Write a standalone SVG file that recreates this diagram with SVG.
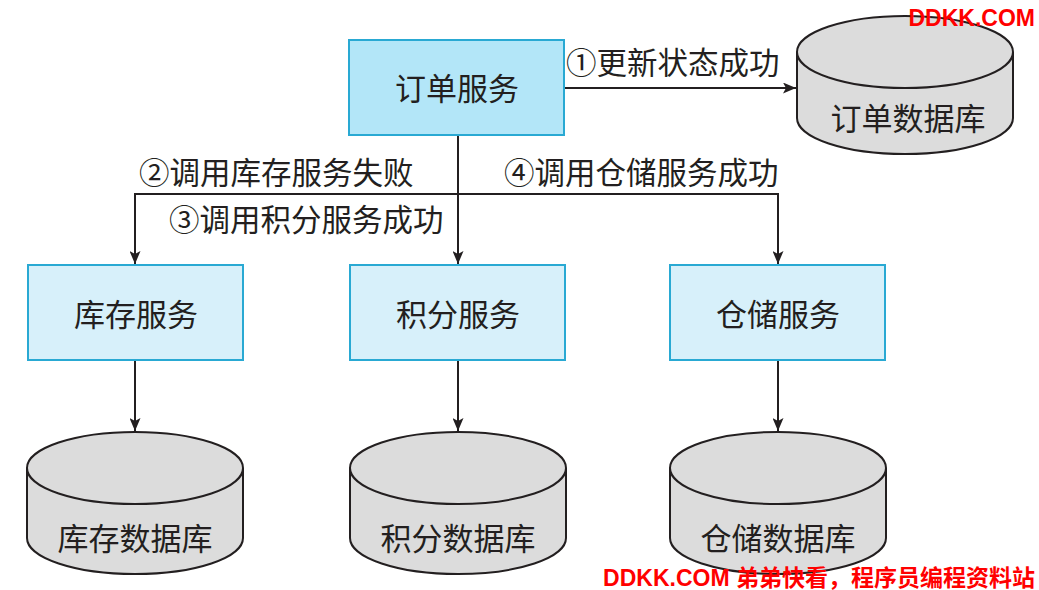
<svg xmlns="http://www.w3.org/2000/svg" width="1039" height="590" viewBox="0 0 1039 590">
<defs>
<style>
.t{font-family:"Noto Sans CJK SC","Noto Sans",sans-serif;font-size:31px;fill:#231f20;text-anchor:middle}
.lb{font-family:"Noto Sans CJK SC","Noto Sans",sans-serif;font-size:30.5px;fill:#231f20}
.main{fill:#b3e6f8;stroke:#29a9d3;stroke-width:2}
.svc{fill:#d7f0fa;stroke:#29a9d3;stroke-width:2}
.db{fill:#dcdcdc;stroke:#231f20;stroke-width:2}
.ln{fill:none;stroke:#231f20;stroke-width:2}
.wm{font-family:"Liberation Sans","Noto Sans CJK SC",sans-serif;font-weight:bold;font-size:23px;fill:#ff0000}
</style>
<marker id="ah" markerWidth="13" markerHeight="11" refX="13" refY="5.5" orient="auto" markerUnits="userSpaceOnUse">
<path d="M0,0 L13,5.5 L0,11 L3,5.5 Z" fill="#231f20"/>
</marker>
</defs>
<rect width="1039" height="590" fill="#ffffff"/>

<g id="connectors">
<line class="ln" x1="565" y1="88" x2="796" y2="88" marker-end="url(#ah)"/>
<line class="ln" x1="458" y1="136" x2="458" y2="264" marker-end="url(#ah)"/>
<polyline class="ln" points="135,194 778,194 778,264" marker-end="url(#ah)"/>
<line class="ln" x1="135" y1="193" x2="135" y2="264" marker-end="url(#ah)"/>
<line class="ln" x1="135" y1="361" x2="135" y2="431" marker-end="url(#ah)"/>
<line class="ln" x1="458" y1="361" x2="458" y2="431" marker-end="url(#ah)"/>
<line class="ln" x1="778" y1="361" x2="778" y2="431" marker-end="url(#ah)"/>
<text class="lb" x="566" y="74">①更新状态成功</text>
<text class="lb" x="139" y="184">②调用库存服务失败</text>
<text class="lb" x="169" y="231">③调用积分服务成功</text>
<text class="lb" x="504" y="184">④调用仓储服务成功</text>
</g>

<g id="order-service">
<rect class="main" x="349" y="40" width="215" height="95"/>
<text class="t" x="457" y="100">订单服务</text>
</g>
<g id="order-db">
<path class="db" d="M797,52 L797,118 A108,36 0 0 0 1013,118 L1013,52"/>
<ellipse class="db" cx="905" cy="52" rx="108" ry="36"/>
<text class="t" x="908" y="130">订单数据库</text>
</g>

<g id="inventory-service">
<rect class="svc" x="28" y="265" width="215" height="95"/>
<text class="t" x="136" y="326">库存服务</text>
</g>
<g id="points-service">
<rect class="svc" x="350" y="265" width="215" height="95"/>
<text class="t" x="458" y="326">积分服务</text>
</g>
<g id="warehouse-service">
<rect class="svc" x="670" y="265" width="215" height="95"/>
<text class="t" x="778" y="326">仓储服务</text>
</g>

<g id="inventory-db">
<path class="db" d="M27,468 L27,538 A108,36 0 0 0 243,538 L243,468"/>
<ellipse class="db" cx="135" cy="468" rx="108" ry="36"/>
<text class="t" x="135" y="550">库存数据库</text>
</g>
<g id="points-db">
<path class="db" d="M350,468 L350,538 A108,36 0 0 0 566,538 L566,468"/>
<ellipse class="db" cx="458" cy="468" rx="108" ry="36"/>
<text class="t" x="458" y="550">积分数据库</text>
</g>
<g id="warehouse-db">
<path class="db" d="M670,468 L670,538 A108,36 0 0 0 886,538 L886,468"/>
<ellipse class="db" cx="778" cy="468" rx="108" ry="36"/>
<text class="t" x="778" y="550">仓储数据库</text>
</g>

<g id="watermark">
<text class="wm" x="1035" y="26" text-anchor="end">DDKK.COM</text>
<text class="wm" x="1035" y="586" text-anchor="end">DDKK.COM 弟弟快看，程序员编程资料站</text>
</g>
</svg>
